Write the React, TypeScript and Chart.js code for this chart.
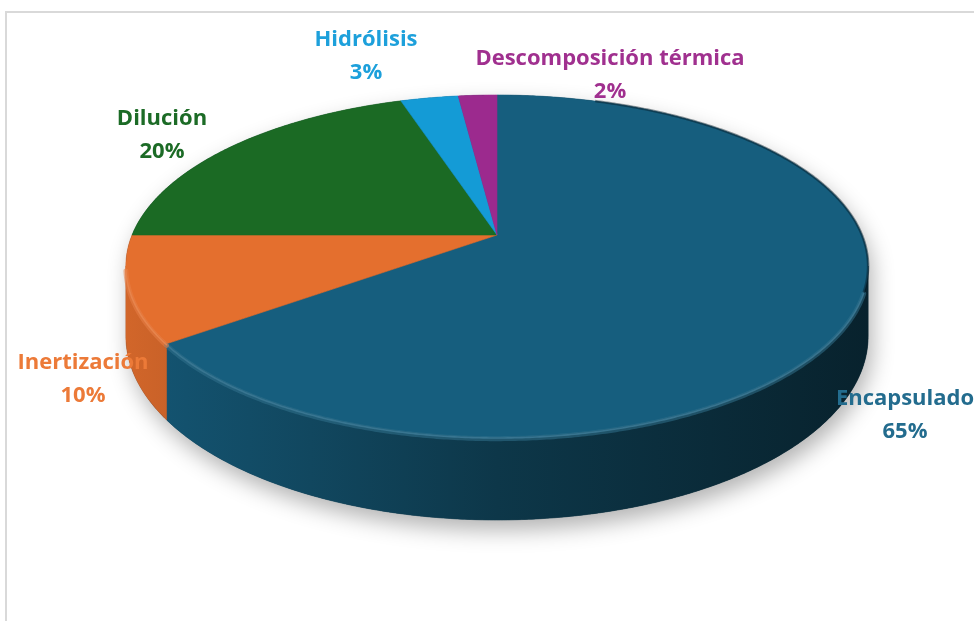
import React, { useEffect, useRef } from "react";
import { Chart, registerables } from "chart.js";

Chart.register(...registerables);

// ---- data ----
const categories = ["Encapsulado", "Inertización", "Dilución", "Hidrólisis", "Descomposición térmica"];
const shares = [65, 10, 20, 3, 2];
const shareLabels = ["65%", "10%", "20%", "3%", "2%"];
const sliceColors = ["#165E7E", "#E46F2E", "#1B6A24", "#149BD6", "#9C2A8E"];
const labelColors = ["#236C8E", "#EC7A38", "#1C6B26", "#1DA0DB", "#A0308F"];

// ---- layout (not data) ----
const LABEL_POS: number[][] = [
  [905, 405],
  [83, 369],
  [162, 125],
  [366, 46],
  [610, 65],
];
const LINE_GAP = 33;
const LABEL_FONT = 'bold 22px "Open Sans"';
const KX = 1.622;
const KY = 0.735;
const PERSP = -0.1813;
const DEPTH = 0.302;

function hexToRgb(h: string) {
  const n = parseInt(h.slice(1), 16);
  return [(n >> 16) & 255, (n >> 8) & 255, n & 255];
}
function shade(h: string, f: number, alpha = 1) {
  const [r, g, b] = hexToRgb(h);
  const m = (c: number) => (f < 0 ? Math.round(c * (1 + f)) : Math.round(c + (255 - c) * f));
  return `rgba(${m(r)},${m(g)},${m(b)},${alpha})`;
}

const pie3d = {
  id: "pie3d",
  beforeDraw(chart: any) {
    const ctx = chart.ctx;
    ctx.save();
    ctx.fillStyle = "#ffffff";
    ctx.fillRect(0, 0, chart.width, chart.height);
    ctx.strokeStyle = "#d9d9d9";
    ctx.lineWidth = 2;
    ctx.strokeRect(6, 12, chart.width + 40, chart.height + 40);
    ctx.restore();
  },
  beforeDatasetsDraw(chart: any) {
    const meta = chart.getDatasetMeta(0);
    const arcs = meta.data;
    if (!arcs.length) return false;
    const ctx = chart.ctx;
    const { x: x0, y: y0, outerRadius: R } = arcs[0].getProps(["x", "y", "outerRadius"], true);
    const P = (a: number, down = 0) => {
      const u = Math.cos(a);
      const w = Math.sin(a);
      const d = 1 + PERSP * w;
      return [x0 + (KX * R * u) / d, y0 + (KY * R * w) / d + (DEPTH * R * down) / d];
    };
    const aR = Math.asin(-PERSP);
    const aL = Math.PI - aR;
    const STEP = 0.008;
    const rim = (s: number, e: number, down: number, moveFirst: boolean) => {
      const n = Math.max(2, Math.ceil(Math.abs(e - s) / STEP));
      for (let i = 0; i <= n; i++) {
        const a = s + ((e - s) * i) / n;
        const [x, y] = P(a, down);
        if (i === 0 && moveFirst) ctx.moveTo(x, y);
        else ctx.lineTo(x, y);
      }
    };
    const xl = x0 - KX * R * 1.02;
    const xr = x0 + KX * R * 1.02;

    ctx.save();
    // soft shadow of the whole pie
    ctx.beginPath();
    rim(aL, aR + 2 * Math.PI, 0, true);
    rim(aR, aL, 1, false);
    ctx.closePath();
    ctx.shadowColor = "rgba(0,0,0,0.30)";
    ctx.shadowBlur = 22;
    ctx.shadowOffsetY = 10;
    ctx.shadowOffsetX = 4;
    ctx.fillStyle = "#0b2a3a";
    ctx.fill();
    ctx.restore();

    // sides
    arcs.forEach((arc: any, i: number) => {
      const { startAngle, endAngle } = arc.getProps(["startAngle", "endAngle"], true);
      const s = Math.max(startAngle, aR);
      const e = Math.min(endAngle, aL);
      if (s >= e) return;
      const col = sliceColors[i];
      ctx.save();
      ctx.beginPath();
      rim(s, e, 0, true);
      rim(e, s, 1, false);
      ctx.closePath();
      const g = ctx.createLinearGradient(xl, 0, xr, 0);
      g.addColorStop(0, shade(col, -0.08));
      g.addColorStop(0.25, shade(col, -0.25));
      g.addColorStop(0.5, shade(col, -0.42));
      g.addColorStop(1, shade(col, -0.64));
      ctx.fillStyle = g;
      ctx.fill();
      ctx.strokeStyle = g;
      ctx.lineWidth = 0.6;
      ctx.stroke();
      ctx.restore();
    });

    // top faces
    arcs.forEach((arc: any, i: number) => {
      const { startAngle, endAngle } = arc.getProps(["startAngle", "endAngle"], true);
      const col = sliceColors[i];
      ctx.save();
      ctx.beginPath();
      ctx.moveTo(x0, y0);
      rim(startAngle, endAngle, 0, false);
      ctx.closePath();
      ctx.fillStyle = col;
      ctx.fill();
      ctx.strokeStyle = col;
      ctx.lineWidth = 0.6;
      ctx.stroke();
      ctx.restore();
    });

    // bevel highlight along the front rim
    arcs.forEach((arc: any, i: number) => {
      const { startAngle, endAngle } = arc.getProps(["startAngle", "endAngle"], true);
      const s = Math.max(startAngle, aR + 0.15);
      const e = Math.min(endAngle, aL - 0.02);
      if (s >= e) return;
      const col = sliceColors[i];
      ctx.save();
      ctx.lineCap = "round";
      ctx.beginPath();
      rim(s, e, 0.02, true);
      ctx.strokeStyle = shade(col, 0.12, 0.55);
      ctx.lineWidth = 5;
      ctx.stroke();
      ctx.beginPath();
      rim(s, e, 0.012, true);
      ctx.strokeStyle = shade(col, 0.16, 0.9);
      ctx.lineWidth = 1.6;
      ctx.stroke();
      ctx.restore();
    });

    // darker bevel on the right rim of the top face
    ctx.save();
    ctx.beginPath();
    rim(-1.25, aR + 0.15, 0, true);
    ctx.strokeStyle = "rgba(5,25,35,0.45)";
    ctx.lineWidth = 2.5;
    ctx.stroke();
    ctx.restore();

    return false;
  },
  afterDraw(chart: any) {
    const ctx = chart.ctx;
    ctx.save();
    ctx.font = LABEL_FONT;
    ctx.textAlign = "center";
    ctx.textBaseline = "alphabetic";
    categories.forEach((name, i) => {
      const [x, y] = LABEL_POS[i];
      ctx.fillStyle = labelColors[i];
      ctx.fillText(name, x, y);
      ctx.fillText(shareLabels[i], x, y + LINE_GAP);
    });
    ctx.restore();
  },
};

export default function App() {
  const ref = useRef<HTMLCanvasElement | null>(null);
  useEffect(() => {
    if (!ref.current) return;
    const chart = new Chart(ref.current, {
      type: "pie",
      data: {
        labels: categories,
        datasets: [
          {
            data: shares,
            backgroundColor: sliceColors,
            borderWidth: 0,
          },
        ],
      },
      options: {
        responsive: false,
        devicePixelRatio: 1,
        animation: false,
        layout: { padding: { left: 30, right: 10, top: 10, bottom: 161 } },
        plugins: {
          legend: { display: false },
          tooltip: { enabled: false },
        },
        events: [],
      },
      plugins: [pie3d],
    });
    return () => chart.destroy();
  }, []);
  return (
    <div style={{ position: "fixed", left: 0, top: 0, width: 974, height: 621, background: "#fff" }}>
      <canvas ref={ref} width={974} height={621} style={{ width: 974, height: 621, display: "block" }} />
    </div>
  );
}
